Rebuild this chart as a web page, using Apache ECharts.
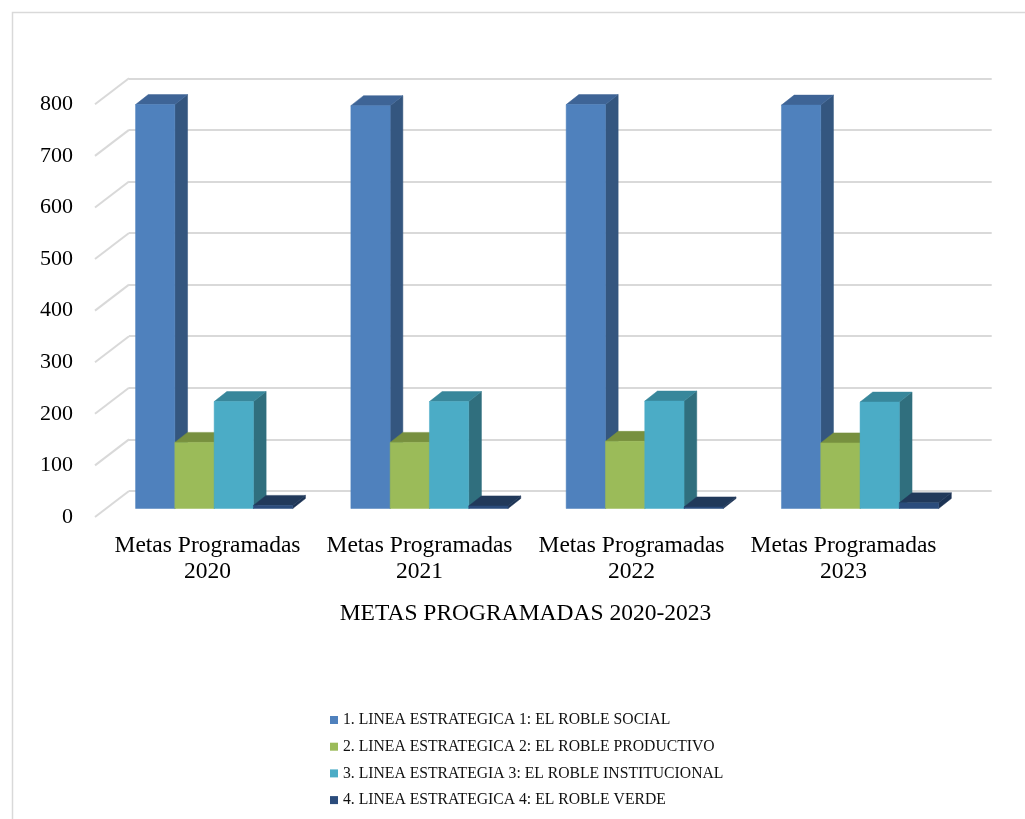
<!DOCTYPE html>
<html>
<head>
<meta charset="utf-8">
<script src="https://cdn.jsdelivr.net/npm/echarts@6/dist/echarts.min.js"></script>
<style>
html,body{margin:0;padding:0;background:#fff;}
#chart{width:1025px;height:819px;}
</style>
</head>
<body>
<div id="chart"></div>
<script>
// ---- data ----
const categories = ['Metas Programadas 2020', 'Metas Programadas 2021', 'Metas Programadas 2022', 'Metas Programadas 2023'];
const seriesNames = [
  '1. LINEA ESTRATEGICA 1: EL ROBLE SOCIAL',
  '2. LINEA ESTRATEGICA 2: EL ROBLE PRODUCTIVO',
  '3. LINEA ESTRATEGIA 3: EL ROBLE INSTITUCIONAL',
  '4. LINEA ESTRATEGICA 4: EL ROBLE VERDE'
];
const social = [782, 780, 782, 781];
const productivo = [128, 128, 130, 127];
const institucional = [207, 207, 208, 206];
const verde = [6, 5, 3, 11];
const yTicks = [0, 100, 200, 300, 400, 500, 600, 700, 800];
const axisTitle = 'METAS PROGRAMADAS 2020-2023';

// ---- styles ----
const FONT = "'Liberation Serif', 'Times New Roman', serif";
const faces = [
  {front: '#4F81BD', side: '#34567F', top: '#3E6496'},
  {front: '#9BBB59', side: '#728E3B', top: '#77903F'},
  {front: '#4BACC6', side: '#306F7E', top: '#38879B'},
  {front: '#2B4C7C', side: '#1C3354', top: '#21395A'}
];
const DX = 12.7, DY = -10;
const BAR_RATIO = 0.1825;

function barRender(sIdx) {
  return function (params, api) {
    const cat = api.value(0), v = api.value(1);
    const c = api.coord([cat, 0]);
    const t = api.coord([cat, v]);
    const cw = api.size([1, 0])[0];
    const bw = cw * BAR_RATIO;
    const x0 = c[0] - 2 * bw + sIdx * bw;
    const x1 = x0 + bw;
    const yb = c[1], yt = t[1];
    const f = faces[sIdx];
    return {
      type: 'group',
      children: [
        {type: 'polygon', shape: {points: [[x1, yb], [x1 + DX, yb + DY], [x1 + DX, yt + DY], [x1, yt]]},
         style: {fill: f.side, stroke: f.side, lineWidth: 0.5}},
        {type: 'polygon', shape: {points: [[x0, yt], [x1, yt], [x1 + DX, yt + DY], [x0 + DX, yt + DY]]},
         style: {fill: f.top, stroke: f.top, lineWidth: 0.5}},
        {type: 'rect', shape: {x: x0, y: yt, width: bw, height: yb - yt},
         style: {fill: f.front, stroke: f.front, lineWidth: 0.5}}
      ]
    };
  };
}

const valueSets = [social, productivo, institucional, verde];
const barSeries = valueSets.map((vals, i) => ({
  name: seriesNames[i],
  type: 'custom',
  xAxisIndex: 0, yAxisIndex: 0,
  renderItem: barRender(i),
  itemStyle: {color: faces[i].front},
  encode: {x: 0, y: 1},
  data: vals.map((v, k) => [k, v]),
  z: 3
}));

const chart = echarts.init(document.getElementById('chart'), null, {renderer: 'canvas'});
const option = {
  backgroundColor: '#fff',
  animation: false,
  graphic: [{
    type: 'rect', left: 10, top: 10, silent: true,
    shape: {width: 1100, height: 900},
    style: {fill: 'none', stroke: '#D9D9D9', lineWidth: 1.5}
  }],
  grid: [
    {left: 106.5, right: 57.3, top: 95.3, bottom: 310.5},   // bars (mid-depth plane)
    {left: 129, right: 33.3, top: 78.3, bottom: 328},       // back wall
    {left: 95, right: 67, top: 104.3, bottom: 302},         // front plane (value labels)
    {left: 101.5, right: 75.5, top: 104.3, bottom: 302}     // category labels
  ],
  xAxis: [
    {type: 'category', gridIndex: 0, data: categories, show: false},
    {type: 'value', gridIndex: 1, min: 0, max: 1, show: false},
    {type: 'value', gridIndex: 2, min: 0, max: 1, show: false},
    {type: 'category', gridIndex: 3, data: categories,
     axisLine: {show: false}, axisTick: {show: false},
     axisLabel: {margin: 16, fontFamily: FONT, fontSize: 23.5, color: '#000', lineHeight: 26,
       interval: 0, formatter: s => { const i = s.lastIndexOf(' '); return s.slice(0, i) + '\n' + s.slice(i + 1); }},
     name: axisTitle, nameLocation: 'middle', nameGap: 85,
     nameTextStyle: {fontFamily: FONT, fontSize: 23.5, color: '#000'}}
  ],
  yAxis: [
    {type: 'value', gridIndex: 0, min: 0, max: 800, interval: 100, show: false},
    {type: 'value', gridIndex: 1, min: 0, max: 800, interval: 100,
     axisLine: {show: false}, axisTick: {show: false}, axisLabel: {show: false},
     splitLine: {show: true, lineStyle: {color: '#D9D9D9', width: 2}}},
    {type: 'value', gridIndex: 2, min: 0, max: 800, interval: 100,
     axisLine: {show: false}, axisTick: {show: false}, splitLine: {show: false},
     axisLabel: {margin: 22, fontFamily: FONT, fontSize: 22, color: '#000'}},
    {type: 'value', gridIndex: 3, min: 0, max: 800, show: false}
  ],
  legend: {
    orient: 'vertical', left: 325, top: 707,
    icon: 'rect', itemWidth: 8, itemHeight: 8, itemGap: 10.7,
    textStyle: {fontFamily: FONT, fontSize: 15.7, color: '#111', lineHeight: 16},
    data: seriesNames
  },
  series: [
    {
      type: 'custom', xAxisIndex: 1, yAxisIndex: 1, silent: true, z: 1,
      renderItem: function (params, api) {
        const p = api.coord([0, api.value(1)]);
        return {type: 'line', shape: {x1: p[0] - 34, y1: p[1] + 26, x2: p[0], y2: p[1]},
                style: {stroke: '#D9D9D9', lineWidth: 2}};
      },
      data: yTicks.map(v => [0, v])
    }
  ].concat(barSeries)
};
chart.setOption(option);
</script>
</body>
</html>
